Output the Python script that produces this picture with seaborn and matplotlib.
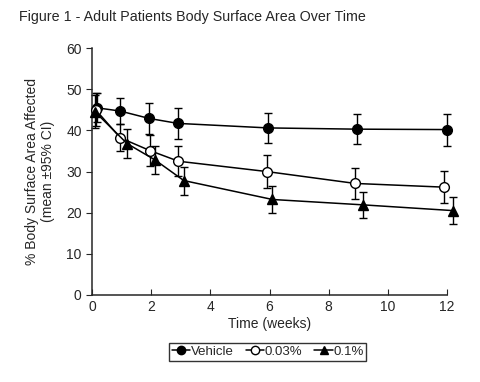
import matplotlib
matplotlib.use('Agg')
import matplotlib.pyplot as plt
import seaborn as sns
import pandas as pd

# data
groups = ['Vehicle', '0.03%', '0.1%']
weeks_vehicle = [0.15, 0.95, 1.93, 2.9, 5.95, 8.95, 12.0]
weeks_003 = [0.12, 0.95, 1.95, 2.92, 5.9, 8.9, 11.9]
weeks_01 = [0.1, 1.18, 2.13, 3.1, 6.1, 9.15, 12.2]
mean_vehicle = [45.5, 44.7, 42.9, 41.7, 40.6, 40.3, 40.2]
mean_003 = [45.0, 38.2, 35.1, 32.5, 30.0, 27.1, 26.2]
mean_01 = [44.5, 36.8, 32.8, 27.8, 23.2, 21.9, 20.5]
ci_vehicle = [3.5, 3.2, 3.8, 3.7, 3.7, 3.7, 3.9]
ci_003 = [4.0, 3.3, 3.8, 3.7, 3.9, 3.8, 3.9]
ci_01 = [4.0, 3.6, 3.3, 3.4, 3.4, 3.2, 3.2]

sns.set_style('ticks')
plt.rcParams['font.family'] = ['Liberation Sans', 'DejaVu Sans']

rows = []
for g, xs, ys, es in [(groups[0], weeks_vehicle, mean_vehicle, ci_vehicle),
                      (groups[1], weeks_003, mean_003, ci_003),
                      (groups[2], weeks_01, mean_01, ci_01)]:
    for x, y, e in zip(xs, ys, es):
        rows.append({'group': g, 'week': x, 'mean': y, 'ci': e})
df = pd.DataFrame(rows)

fig = plt.figure(figsize=(4.8, 3.82), dpi=100)
ax = fig.add_axes([0.192, 0.228, 0.739, 0.646])

styles = {'Vehicle': dict(marker='o', markerfacecolor='black'),
          '0.03%': dict(marker='o', markerfacecolor='white'),
          '0.1%': dict(marker='^', markerfacecolor='black')}

handles = []
for g in groups:
    d = df[df['group'] == g]
    eb = ax.errorbar(d['week'], d['mean'], yerr=d['ci'], fmt='none', ecolor='black',
                     elinewidth=1, capsize=3, capthick=1, zorder=2)
    for art in eb.lines[1] + eb.lines[2]:
        art.set_clip_on(False)
    sns.lineplot(x='week', y='mean', data=d, ax=ax, color='black', linewidth=1.1,
                 markersize=7, markeredgecolor='black', markeredgewidth=1,
                 zorder=3, clip_on=False, **styles[g])
    h, = ax.plot([], [], color='black', linewidth=1.1, markersize=6,
                 markeredgecolor='black', **styles[g])
    handles.append(h)

ax.set_xlim(0, 12)
ax.set_ylim(0, 60)
ax.set_xticks(range(0, 13, 2))
ax.set_yticks(range(0, 61, 10))
ax.tick_params(axis='x', direction='in', length=4, labelsize=10, pad=4)
ax.tick_params(axis='y', direction='out', length=4, labelsize=10)
sns.despine(ax=ax)
ax.spines['left'].set_linewidth(1.1)
ax.spines['bottom'].set_linewidth(1.1)

ax.set_xlabel('Time (weeks)', fontsize=10, labelpad=2)
ax.set_ylabel('% Body Surface Area Affected\n(mean \u00b195% CI)', fontsize=10, labelpad=8)

fig.text(0.04, 0.945, 'Figure 1 - Adult Patients Body Surface Area Over Time', fontsize=10.3)

leg = fig.legend(handles, groups, loc='center', bbox_to_anchor=(0.558, 0.079), ncol=3,
                 frameon=True, fancybox=False, fontsize=9.5, handlelength=1.4,
                 handletextpad=0.05, columnspacing=0.9, borderpad=0.2)
leg.get_frame().set_edgecolor('black')
leg.get_frame().set_linewidth(1.0)

fig.savefig('out.png', dpi=100)
